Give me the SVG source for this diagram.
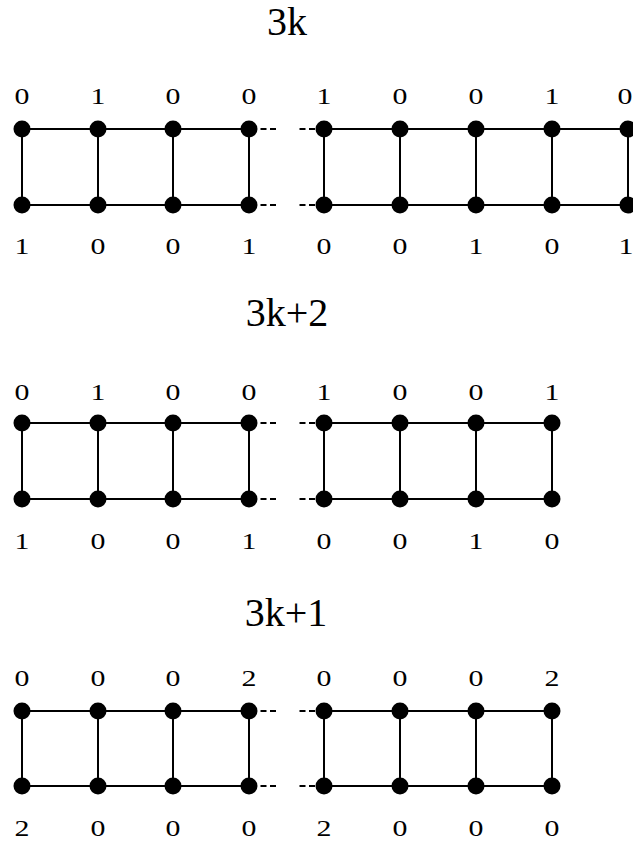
<svg xmlns="http://www.w3.org/2000/svg" width="633" height="842" viewBox="0 0 633 842">
<style>
.e{stroke:#000;stroke-width:2;fill:none}
.d{stroke:#000;stroke-width:2;fill:none;stroke-dasharray:6 3.5}
.v{fill:#000}
.l{font-family:"Liberation Serif","Times New Roman",serif;font-size:23px;fill:#000;text-anchor:middle}
.t{font-family:"Liberation Serif","Times New Roman",serif;font-size:40px;fill:#000;text-anchor:middle}
</style>
<rect width="633" height="842" fill="#fff"/>
<g id="titles">
<text class="t" x="287" y="35">3k</text>
<text class="t" x="287" y="326">3k+2</text>
<text class="t" x="286" y="626">3k+1</text>
</g>
<g id="connectors">
<path class="e" d="M22,129H249M22,205H249M324,129H628M324,205H628"/>
<path class="e" d="M22,129V205M98,129V205M173,129V205M249,129V205M324,129V205M400,129V205M476,129V205M552,129V205M628,129V205"/>
<path class="d" d="M260.5,129H276M260.5,205H276M299.5,129H324M299.5,205H324"/>
<path class="e" d="M22,423H249M22,499H249M324,423H552M324,499H552"/>
<path class="e" d="M22,423V499M98,423V499M173,423V499M249,423V499M324,423V499M400,423V499M476,423V499M552,423V499"/>
<path class="d" d="M260.5,423H276M260.5,499H276M299.5,423H324M299.5,499H324"/>
<path class="e" d="M22,711H249M22,786H249M324,711H552M324,786H552"/>
<path class="e" d="M22,711V786M98,711V786M173,711V786M249,711V786M324,711V786M400,711V786M476,711V786M552,711V786"/>
<path class="d" d="M260.5,711H276M260.5,786H276M299.5,711H324M299.5,786H324"/>
</g>
<g id="a-t1"><circle class="v" cx="22" cy="129" r="8.5"/><text class="l" transform="translate(22,104) scale(1.3,1)">0</text></g>
<g id="a-t2"><circle class="v" cx="98" cy="129" r="8.5"/><text class="l" transform="translate(98,104) scale(1.3,1)">1</text></g>
<g id="a-t3"><circle class="v" cx="173" cy="129" r="8.5"/><text class="l" transform="translate(173,104) scale(1.3,1)">0</text></g>
<g id="a-t4"><circle class="v" cx="249" cy="129" r="8.5"/><text class="l" transform="translate(249,104) scale(1.3,1)">0</text></g>
<g id="a-t5"><circle class="v" cx="324" cy="129" r="8.5"/><text class="l" transform="translate(324,104) scale(1.3,1)">1</text></g>
<g id="a-t6"><circle class="v" cx="400" cy="129" r="8.5"/><text class="l" transform="translate(400,104) scale(1.3,1)">0</text></g>
<g id="a-t7"><circle class="v" cx="476" cy="129" r="8.5"/><text class="l" transform="translate(476,104) scale(1.3,1)">0</text></g>
<g id="a-t8"><circle class="v" cx="552" cy="129" r="8.5"/><text class="l" transform="translate(552,104) scale(1.3,1)">1</text></g>
<g id="a-t9"><circle class="v" cx="628" cy="129" r="8.5"/><text class="l" transform="translate(625,104) scale(1.3,1)">0</text></g>
<g id="a-b1"><circle class="v" cx="22" cy="205" r="8.5"/><text class="l" transform="translate(22,254) scale(1.3,1)">1</text></g>
<g id="a-b2"><circle class="v" cx="98" cy="205" r="8.5"/><text class="l" transform="translate(98,254) scale(1.3,1)">0</text></g>
<g id="a-b3"><circle class="v" cx="173" cy="205" r="8.5"/><text class="l" transform="translate(173,254) scale(1.3,1)">0</text></g>
<g id="a-b4"><circle class="v" cx="249" cy="205" r="8.5"/><text class="l" transform="translate(249,254) scale(1.3,1)">1</text></g>
<g id="a-b5"><circle class="v" cx="324" cy="205" r="8.5"/><text class="l" transform="translate(324,254) scale(1.3,1)">0</text></g>
<g id="a-b6"><circle class="v" cx="400" cy="205" r="8.5"/><text class="l" transform="translate(400,254) scale(1.3,1)">0</text></g>
<g id="a-b7"><circle class="v" cx="476" cy="205" r="8.5"/><text class="l" transform="translate(476,254) scale(1.3,1)">1</text></g>
<g id="a-b8"><circle class="v" cx="552" cy="205" r="8.5"/><text class="l" transform="translate(552,254) scale(1.3,1)">0</text></g>
<g id="a-b9"><circle class="v" cx="628" cy="205" r="8.5"/><text class="l" transform="translate(626,254) scale(1.3,1)">1</text></g>
<g id="b-t1"><circle class="v" cx="22" cy="423" r="8.5"/><text class="l" transform="translate(22,400) scale(1.3,1)">0</text></g>
<g id="b-t2"><circle class="v" cx="98" cy="423" r="8.5"/><text class="l" transform="translate(98,400) scale(1.3,1)">1</text></g>
<g id="b-t3"><circle class="v" cx="173" cy="423" r="8.5"/><text class="l" transform="translate(173,400) scale(1.3,1)">0</text></g>
<g id="b-t4"><circle class="v" cx="249" cy="423" r="8.5"/><text class="l" transform="translate(249,400) scale(1.3,1)">0</text></g>
<g id="b-t5"><circle class="v" cx="324" cy="423" r="8.5"/><text class="l" transform="translate(324,400) scale(1.3,1)">1</text></g>
<g id="b-t6"><circle class="v" cx="400" cy="423" r="8.5"/><text class="l" transform="translate(400,400) scale(1.3,1)">0</text></g>
<g id="b-t7"><circle class="v" cx="476" cy="423" r="8.5"/><text class="l" transform="translate(476,400) scale(1.3,1)">0</text></g>
<g id="b-t8"><circle class="v" cx="552" cy="423" r="8.5"/><text class="l" transform="translate(552,400) scale(1.3,1)">1</text></g>
<g id="b-b1"><circle class="v" cx="22" cy="499" r="8.5"/><text class="l" transform="translate(22,549) scale(1.3,1)">1</text></g>
<g id="b-b2"><circle class="v" cx="98" cy="499" r="8.5"/><text class="l" transform="translate(98,549) scale(1.3,1)">0</text></g>
<g id="b-b3"><circle class="v" cx="173" cy="499" r="8.5"/><text class="l" transform="translate(173,549) scale(1.3,1)">0</text></g>
<g id="b-b4"><circle class="v" cx="249" cy="499" r="8.5"/><text class="l" transform="translate(249,549) scale(1.3,1)">1</text></g>
<g id="b-b5"><circle class="v" cx="324" cy="499" r="8.5"/><text class="l" transform="translate(324,549) scale(1.3,1)">0</text></g>
<g id="b-b6"><circle class="v" cx="400" cy="499" r="8.5"/><text class="l" transform="translate(400,549) scale(1.3,1)">0</text></g>
<g id="b-b7"><circle class="v" cx="476" cy="499" r="8.5"/><text class="l" transform="translate(476,549) scale(1.3,1)">1</text></g>
<g id="b-b8"><circle class="v" cx="552" cy="499" r="8.5"/><text class="l" transform="translate(552,549) scale(1.3,1)">0</text></g>
<g id="c-t1"><circle class="v" cx="22" cy="711" r="8.5"/><text class="l" transform="translate(22,686) scale(1.3,1)">0</text></g>
<g id="c-t2"><circle class="v" cx="98" cy="711" r="8.5"/><text class="l" transform="translate(98,686) scale(1.3,1)">0</text></g>
<g id="c-t3"><circle class="v" cx="173" cy="711" r="8.5"/><text class="l" transform="translate(173,686) scale(1.3,1)">0</text></g>
<g id="c-t4"><circle class="v" cx="249" cy="711" r="8.5"/><text class="l" transform="translate(249,686) scale(1.3,1)">2</text></g>
<g id="c-t5"><circle class="v" cx="324" cy="711" r="8.5"/><text class="l" transform="translate(324,686) scale(1.3,1)">0</text></g>
<g id="c-t6"><circle class="v" cx="400" cy="711" r="8.5"/><text class="l" transform="translate(400,686) scale(1.3,1)">0</text></g>
<g id="c-t7"><circle class="v" cx="476" cy="711" r="8.5"/><text class="l" transform="translate(476,686) scale(1.3,1)">0</text></g>
<g id="c-t8"><circle class="v" cx="552" cy="711" r="8.5"/><text class="l" transform="translate(552,686) scale(1.3,1)">2</text></g>
<g id="c-b1"><circle class="v" cx="22" cy="786" r="8.5"/><text class="l" transform="translate(22,836) scale(1.3,1)">2</text></g>
<g id="c-b2"><circle class="v" cx="98" cy="786" r="8.5"/><text class="l" transform="translate(98,836) scale(1.3,1)">0</text></g>
<g id="c-b3"><circle class="v" cx="173" cy="786" r="8.5"/><text class="l" transform="translate(173,836) scale(1.3,1)">0</text></g>
<g id="c-b4"><circle class="v" cx="249" cy="786" r="8.5"/><text class="l" transform="translate(249,836) scale(1.3,1)">0</text></g>
<g id="c-b5"><circle class="v" cx="324" cy="786" r="8.5"/><text class="l" transform="translate(324,836) scale(1.3,1)">2</text></g>
<g id="c-b6"><circle class="v" cx="400" cy="786" r="8.5"/><text class="l" transform="translate(400,836) scale(1.3,1)">0</text></g>
<g id="c-b7"><circle class="v" cx="476" cy="786" r="8.5"/><text class="l" transform="translate(476,836) scale(1.3,1)">0</text></g>
<g id="c-b8"><circle class="v" cx="552" cy="786" r="8.5"/><text class="l" transform="translate(552,836) scale(1.3,1)">0</text></g>
</svg>
